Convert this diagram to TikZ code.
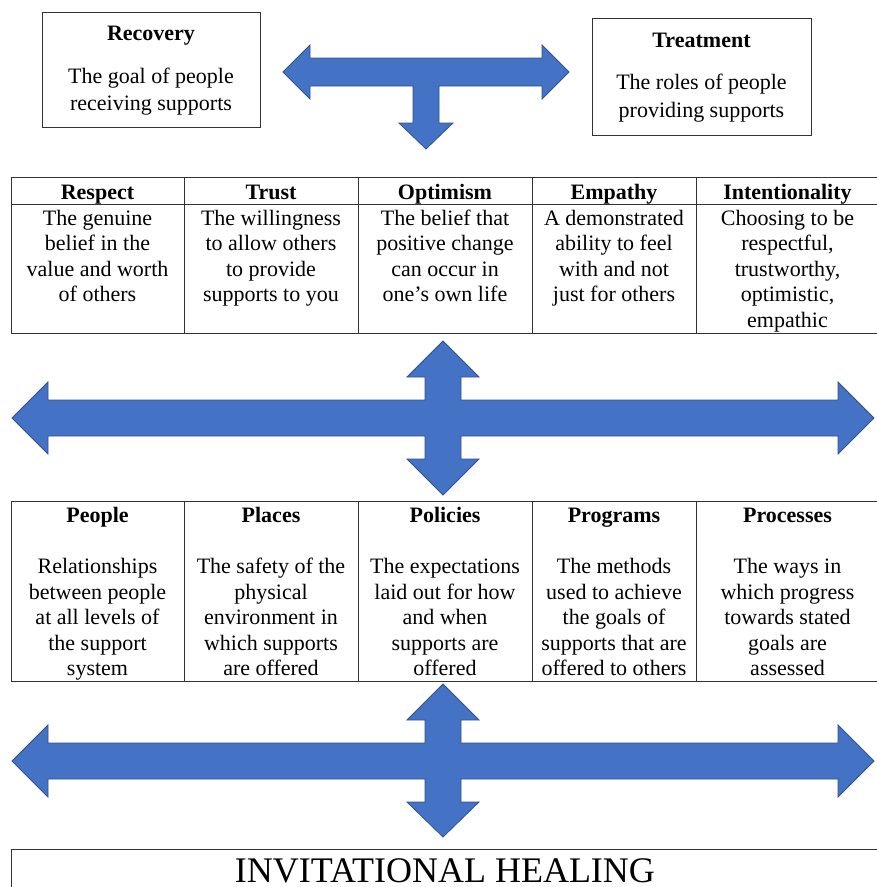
\documentclass[tikz,border=0pt]{standalone}
\usepackage{fontspec}
\setmainfont{Liberation Serif}
\usetikzlibrary{calc}

\begin{document}
\begin{tikzpicture}[
  x=1pt, y=-1pt,
  font=\fontsize{22}{25.5}\selectfont,
  tabline/.style={draw=black!80, line width=1pt},
  txt/.style={align=center, inner sep=0pt, anchor=north,
    execute at begin node=\strut, execute at end node=\strut},
  hd/.style={txt, font=\fontsize{22}{25.5}\selectfont\bfseries},
  bigarrow/.style={fill=carrow, draw=carrowline, line width=0.8pt, line join=miter},
]
\definecolor{carrow}{HTML}{4472C4}       % arrow fill
\definecolor{carrowline}{HTML}{2F528F}   % arrow outline

\useasboundingbox (0,0) rectangle (877,887);
\clip (0,0) rectangle (877,887);

% =====================================================================
% Recovery / Treatment boxes and the T arrow between them
% =====================================================================
\draw[tabline] (42,12) rectangle (260,127);
\node[hd]  (recovery)     at (151,22.5) {Recovery};
\node[txt] (recovery-txt) at (151,67.6) {The goal of people\\[1.5pt]receiving supports};

\draw[tabline] (592,18) rectangle (811,135);
\node[hd]  (treatment)     at (701.5,29.5) {Treatment};
\node[txt] (treatment-txt) at (701.5,73.6) {The roles of people\\[2.5pt]providing supports};

\begin{scope}[shift={(426,72)}]
  \draw[bigarrow] (-143,0) -- (-116,-27) -- (-116,-14) -- (116,-14) -- (116,-27)
    -- (143,0) -- (116,27) -- (116,14) -- (13,14) -- (13,51) -- (27,51)
    -- (0,77) -- (-27,51) -- (-13,51) -- (-13,14) -- (-116,14) -- (-116,27) -- cycle;
\end{scope}

% =====================================================================
% First table: the five attitudes
% =====================================================================
\draw[tabline] (11,177) rectangle (879,333);
\draw[tabline] (11,204) -- (879,204);
\foreach \x in {184,358,532,696} {
  \draw[tabline] (\x,177) -- (\x,333);
}

\node[hd] (respect)   at (97.5,181.15)  {Respect};
\node[hd] (trust)     at (271,181.15)   {Trust};
\node[hd] (optimism)  at (445,181.15)   {Optimism};
\node[hd] (empathy)   at (614,181.15)   {Empathy};
\node[hd] (intent)    at (787.5,181.15) {Intentionality};

\node[txt] (respect-txt)  at (97.5,209.65)
  {The genuine\\belief in the\\value and worth\\of others};
\node[txt] (trust-txt)    at (271,209.65)
  {The willingness\\to allow others\\to provide\\supports to you};
\node[txt] (optimism-txt) at (445,209.65)
  {The belief that\\positive change\\can occur in\\one’s own life};
\node[txt] (empathy-txt)  at (614,209.65)
  {A demonstrated\\ability to feel\\with and not\\just for others};
\node[txt] (intent-txt)   at (787.5,209.65)
  {Choosing to be\\respectful,\\trustworthy,\\optimistic,\\empathic};

% =====================================================================
% Cross arrow between the two tables
% =====================================================================
\begin{scope}[shift={(443,418)}]
  \draw[bigarrow] (-431,0) -- (-395,-36) -- (-395,-18) -- (-18,-18) -- (-18,-41)
    -- (-36,-41) -- (0,-77) -- (36,-41) -- (18,-41) -- (18,-18) -- (395,-18)
    -- (395,-36) -- (431,0) -- (395,36) -- (395,18) -- (18,18) -- (18,41)
    -- (36,41) -- (0,77) -- (-36,41) -- (-18,41) -- (-18,18) -- (-395,18)
    -- (-395,36) -- cycle;
\end{scope}

% =====================================================================
% Second table: the five P's
% =====================================================================
\draw[tabline] (11,501) rectangle (879,681);
\foreach \x in {184,358,532,696} {
  \draw[tabline] (\x,501) -- (\x,681);
}

\node[hd] (people)    at (97.5,504.15)  {People};
\node[hd] (places)    at (271,504.15)   {Places};
\node[hd] (policies)  at (445,504.15)   {Policies};
\node[hd] (programs)  at (614,504.15)   {Programs};
\node[hd] (processes) at (787.5,504.15) {Processes};

\node[txt] (people-txt)    at (97.5,558.15)
  {Relationships\\between people\\at all levels of\\the support\\system};
\node[txt] (places-txt)    at (271,558.15)
  {The safety of the\\physical\\environment in\\which supports\\are offered};
\node[txt] (policies-txt)  at (445,558.15)
  {The expectations\\laid out for how\\and when\\supports are\\offered};
\node[txt] (programs-txt)  at (614,558.15)
  {The methods\\used to achieve\\the goals of\\supports that are\\offered to others};
\node[txt] (processes-txt) at (787.5,558.15)
  {The ways in\\which progress\\towards stated\\goals are\\assessed};

% =====================================================================
% Cross arrow above the base
% =====================================================================
\begin{scope}[shift={(443,761)}]
  \draw[bigarrow] (-431,0) -- (-395,-36) -- (-395,-18) -- (-18,-18) -- (-18,-41)
    -- (-36,-41) -- (0,-77) -- (36,-41) -- (18,-41) -- (18,-18) -- (395,-18)
    -- (395,-36) -- (431,0) -- (395,36) -- (395,18) -- (18,18) -- (18,41)
    -- (36,41) -- (0,76) -- (-36,41) -- (-18,41) -- (-18,18) -- (-395,18)
    -- (-395,36) -- cycle;
\end{scope}

% =====================================================================
% Base box
% =====================================================================
\draw[tabline] (11,900) -- (11,849) -- (879,849) -- (879,900);
\node[anchor=base, inner sep=0pt, font=\fontsize{36}{43}\selectfont] (healing)
  at (445,882) {INVITATIONAL HEALING};

\end{tikzpicture}
\end{document}
